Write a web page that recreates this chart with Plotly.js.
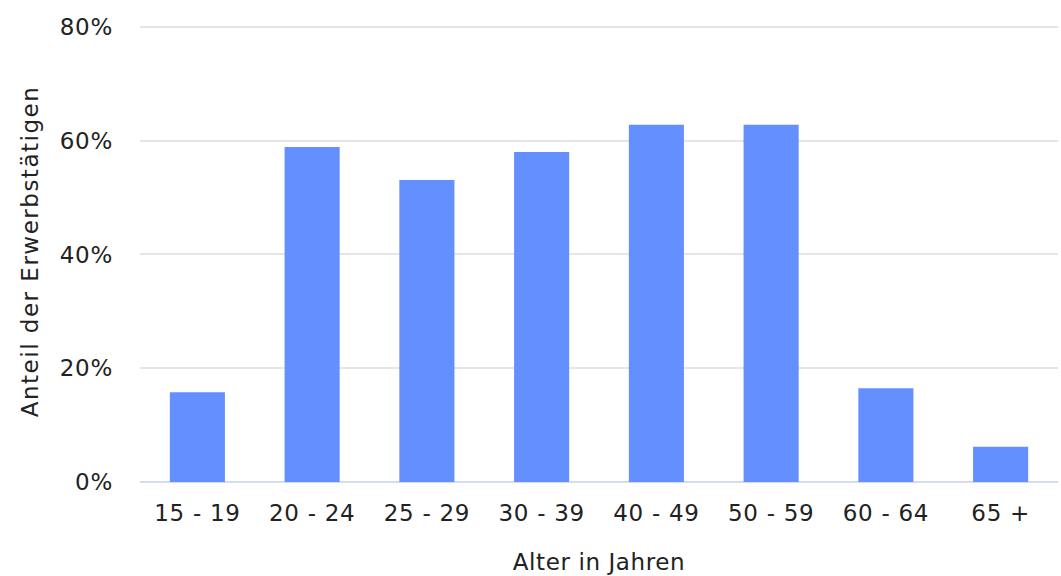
<!DOCTYPE html>
<html>
<head>
<meta charset="utf-8">
<script src="https://cdn.plot.ly/plotly-3.0.1.min.js"></script>
<style>
html,body{margin:0;padding:0;background:#fff;}
#chart{width:1061px;height:576px;}
#chart .xtick text, #chart .ytick text{letter-spacing:0.7px;}
#chart .g-ytitle text{letter-spacing:1.5px;}
#chart .g-xtitle text{letter-spacing:0.6px;}
</style>
</head>
<body>
<div id="chart"></div>
<script>
const categories = ["15 - 19", "20 - 24", "25 - 29", "30 - 39", "40 - 49", "50 - 59", "60 - 64", "65 +"];
const shares = [0.158, 0.589, 0.531, 0.580, 0.628, 0.628, 0.165, 0.062];
const yTickValues = [0, 0.2, 0.4, 0.6, 0.8];
const yTickLabels = ["0%", "20%", "40%", "60%", "80%"];

const font = "DejaVu Sans, sans-serif";
Plotly.newPlot("chart", [{
  type: "bar",
  x: categories,
  y: shares,
  marker: {color: "#648ffe", line: {width: 0}},
  hoverinfo: "x+y"
}], {
  width: 1061, height: 576,
  margin: {l: 140, r: 3, t: 21, b: 94},
  paper_bgcolor: "#ffffff",
  plot_bgcolor: "#ffffff",
  bargap: 0.52,
  font: {family: font, size: 23, color: "#222222"},
  xaxis: {
    type: "category",
    tickfont: {family: font, size: 23, color: "#222222"},
    ticks: "", showgrid: false, showline: false, zeroline: false,
    ticklabelstandoff: 15,
    title: {text: "Alter in Jahren", font: {family: font, size: 23, color: "#222222"}, standoff: 28}
  },
  yaxis: {
    range: [0, 0.8105],
    tickvals: yTickValues,
    ticktext: yTickLabels,
    tickfont: {family: font, size: 23, color: "#222222"},
    showgrid: true, gridcolor: "#e6e6e6", gridwidth: 1.5,
    zeroline: true, zerolinecolor: "#d3dcf3", zerolinewidth: 2,
    ticks: "", ticklen: 0,
    ticklabelstandoff: 26,
    title: {text: "Anteil der Erwerbstätigen", font: {family: font, size: 23, color: "#222222"}, standoff: 16}
  },
  showlegend: false
}, {displayModeBar: false});
</script>
</body>
</html>
